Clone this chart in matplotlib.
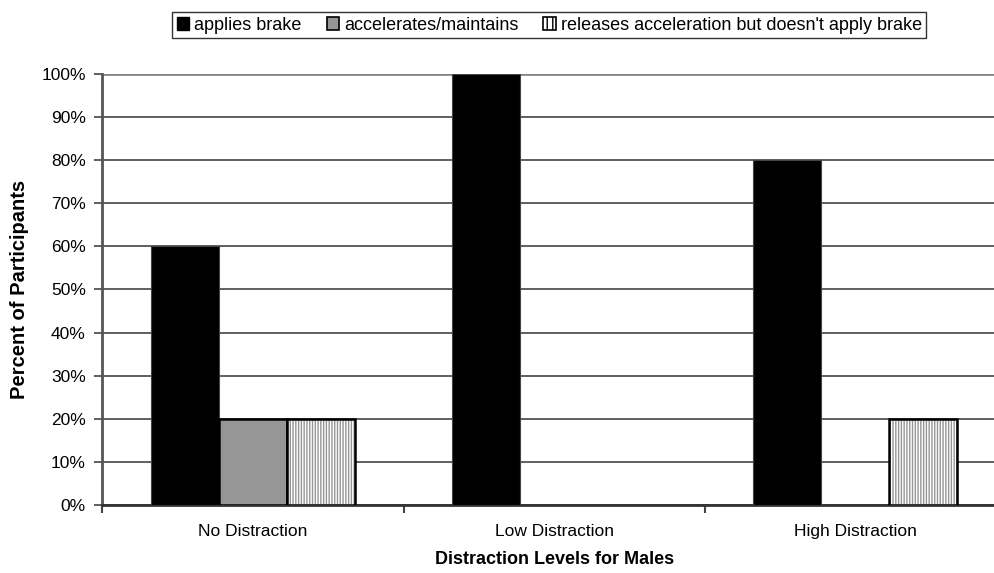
import matplotlib.pyplot as plt
import numpy as np
from matplotlib.ticker import PercentFormatter
from matplotlib.patches import Patch

plt.rcParams['font.family'] = ['Liberation Sans', 'DejaVu Sans']
plt.rcParams['hatch.linewidth'] = 1.0

categories = ['No Distraction', 'Low Distraction', 'High Distraction']
applies_brake = [60, 100, 80]
accelerates = [20, 0, 0]
releases = [20, 0, 20]
series_names = ['applies brake', 'accelerates/maintains',
                "releases acceleration but doesn't apply brake"]

fig = plt.figure(figsize=(9.95, 5.73), dpi=100)
# plot area runs slightly past the right edge, as in the original
ax = fig.add_axes([0.103, 0.1187, 0.908, 0.7522])

x = np.arange(len(categories))
w = 0.226

b1 = ax.bar(x - w, applies_brake, w, color='black', edgecolor='#444444', linewidth=0.8, zorder=3)
b2 = ax.bar(x, accelerates, w, color='#969696', edgecolor='black', linewidth=1.8, zorder=3)
# hatched bars: gray stripes on white, black outline drawn on top
b3 = ax.bar(x + w, releases, w, color='white', edgecolor='#969696', linewidth=0,
            hatch='||||||', zorder=3)
b3o = ax.bar(x + w, releases, w, fill=False, edgecolor='black', linewidth=1.8, zorder=4)
# zero values draw nothing
for bars in (b1, b2, b3, b3o):
    for p in bars:
        if p.get_height() == 0:
            p.set_visible(False)

ax.set_xlim(-0.5, 2.5)
ax.set_ylim(0, 100)
ax.set_yticks(np.arange(0, 101, 10))
ax.yaxis.set_major_formatter(PercentFormatter(decimals=0))
ax.set_xticks(x)
ax.set_xticklabels(categories, fontsize=12.5)
ax.set_xticks([-0.5, 0.5, 1.5, 2.5], minor=True)
ax.tick_params(axis='x', which='major', length=0, pad=14)
ax.tick_params(axis='x', which='minor', length=6, width=1.5, color='#444444', direction='out')
ax.tick_params(axis='y', length=6, width=1.2, color='#444444', labelsize=12.5, pad=6)

ax.grid(axis='y', color='#444444', linewidth=1.2, zorder=0)
ax.set_axisbelow(True)
ax.get_ygridlines()[-1].set_color('#888888')
ax.get_ygridlines()[-1].set_linewidth(2)
for s in ['top', 'right']:
    ax.spines[s].set_visible(False)
ax.spines['left'].set_color('#555555')
ax.spines['left'].set_linewidth(2)
ax.spines['bottom'].set_color('#333333')
ax.spines['bottom'].set_linewidth(2)

ax.set_xlabel('Distraction Levels for Males', fontsize=13, fontweight='bold', labelpad=8)
ax.set_ylabel('Percent of Participants', fontsize=14.5, fontweight='bold', labelpad=9)

handles = [Patch(facecolor='black', edgecolor='black'),
           Patch(facecolor='#969696', edgecolor='black', linewidth=1.2),
           Patch(facecolor='white', edgecolor='black', linewidth=1.2, hatch='|||')]
leg = fig.legend(handles, series_names, loc='upper center',
                 bbox_to_anchor=(0.552, 0.979), ncol=3, fontsize=13, frameon=True,
                 fancybox=False, edgecolor='black', handlelength=0.7, handleheight=0.7,
                 handletextpad=0.25, columnspacing=1.4, borderpad=0.25, borderaxespad=0)
leg.get_frame().set_linewidth(1)

fig.savefig('out.png', dpi=100)
